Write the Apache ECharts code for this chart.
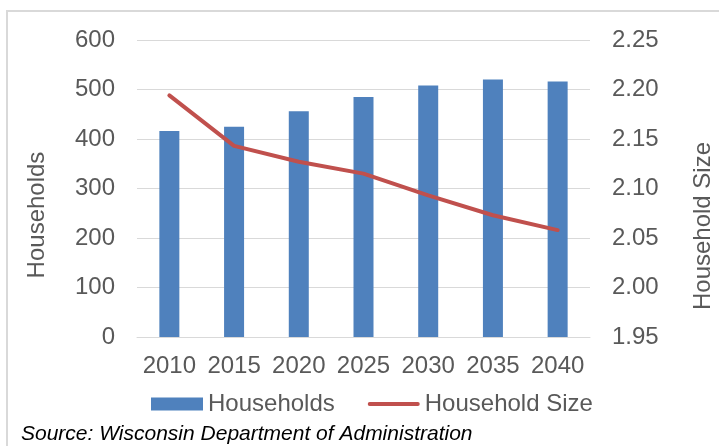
<!DOCTYPE html>
<html>
<head>
<meta charset="utf-8">
<script src="https://cdn.jsdelivr.net/npm/echarts@6/dist/echarts.min.js"></script>
<style>
  html, body { margin: 0; padding: 0; background: #fff; }
  #chart { width: 719px; height: 446px; }
</style>
</head>
<body>
<div id="chart"></div>
<script>
var years = ['2010', '2015', '2020', '2025', '2030', '2035', '2040'];
var households = [416, 425, 456, 485, 508, 520, 516];
var householdSize = [2.194, 2.143, 2.127, 2.115, 2.093, 2.073, 2.058];
var leftTicks = { min: 0, max: 600, interval: 100 };
var rightTicks = { min: 1.95, max: 2.25, interval: 0.05 };

var myChart = echarts.init(document.getElementById('chart'));
var font = 'Arial, "Liberation Sans", sans-serif';
var option = {
    animation: false,
    textStyle: { fontFamily: font },
    grid: { left: 137, right: 129, top: 40, bottom: 109 },
    /*图例*/
    legend: {
        bottom: 25,
        left: 146,
        itemWidth: 52,
        itemHeight: 13,
        itemGap: 33,
        symbolKeepAspect: true,
        textStyle: { color: '#595959', fontSize: 24, fontFamily: font },
        data: [
            { name: 'Households', icon: 'rect' },
            { name: 'Household Size', icon: 'path://M2,0 L52,0 A2,2 0 0 1 52,4 L2,4 A2,2 0 0 1 2,0 Z' }
        ]
    },
    xAxis: {
        type: 'category',
        data: years,
        axisTick: { show: false },
        axisLine: { lineStyle: { color: '#D9D9D9', width: 1 } },
        axisLabel: { color: '#595959', fontSize: 24, margin: 17, interval: 0 }
    },
    yAxis: [
        {
            type: 'value',
            min: leftTicks.min, max: leftTicks.max, interval: leftTicks.interval,
            axisLine: { show: false },
            axisTick: { show: false },
            splitLine: { lineStyle: { color: '#D9D9D9', width: 1 } },
            axisLabel: { color: '#595959', fontSize: 24, margin: 22 }
        },
        {
            type: 'value',
            min: rightTicks.min, max: rightTicks.max, interval: rightTicks.interval,
            axisLine: { show: false },
            axisTick: { show: false },
            splitLine: { show: false },
            axisLabel: {
                color: '#595959', fontSize: 24, margin: 22,
                formatter: function (v) { return v.toFixed(2); }
            }
        }
    ],
    series: [
        {
            name: 'Households',
            type: 'bar',
            barWidth: 20,
            itemStyle: { color: '#4F81BD' },
            data: households
        },
        {
            name: 'Household Size',
            type: 'line',
            yAxisIndex: 1,
            symbol: 'none',
            itemStyle: { color: '#C0504D' },
            lineStyle: { color: '#C0504D', width: 4, cap: 'round', join: 'round' },
            data: householdSize
        }
    ],
    /*边框、轴标题、来源*/
    graphic: [
        {
            type: 'rect',
            shape: { x: 7, y: 11, width: 740, height: 460 },
            style: { fill: 'none', stroke: '#D9D9D9', lineWidth: 2 },
            silent: true
        },
        {
            type: 'text',
            x: 37, y: 215, rotation: Math.PI / 2,
            style: { text: 'Households', fill: '#595959', font: '24px ' + font, align: 'center', verticalAlign: 'middle' }
        },
        {
            type: 'text',
            x: 703, y: 226, rotation: Math.PI / 2,
            style: { text: 'Household Size', fill: '#595959', font: '24px ' + font, align: 'center', verticalAlign: 'middle' }
        },
        {
            type: 'text',
            left: 21, top: 424,
            style: { text: 'Source: Wisconsin Department of Administration', fill: '#000', font: 'italic 21px ' + font }
        }
    ]
};
myChart.setOption(option);
</script>
</body>
</html>
